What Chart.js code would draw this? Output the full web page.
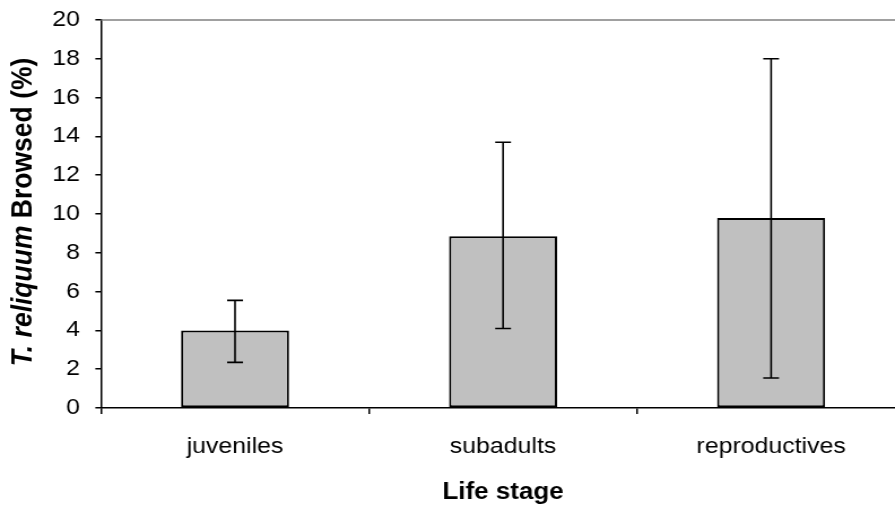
<!DOCTYPE html>
<html>
<head>
<meta charset="utf-8">
<script src="https://cdn.jsdelivr.net/npm/chart.js@4.4.0/dist/chart.umd.min.js"></script>
<style>
  html, body { margin: 0; padding: 0; background: #fff; width: 895px; height: 512px; overflow: hidden; }
  #wrap { width: 801px; height: 512px; transform: scaleX(1.13); transform-origin: 0 0; }
</style>
</head>
<body>
<div id="wrap"><canvas id="c" width="801" height="512"></canvas></div>
<script>
const categories = ['juveniles', 'subadults', 'reproductives'];
const means = [4.0, 8.85, 9.8];
const errLow = [2.35, 4.1, 1.55];
const errHigh = [5.55, 13.7, 18.0];
const yMin = 0, yMax = 20, yStep = 2;
const xTitle = 'Life stage';
const yTitleItalic = 'T. reliquum';
const yTitleRest = ' Browsed (%)';

const FONT = '"Liberation Sans", Arial, sans-serif';

const frame = {
  id: 'frame',
  beforeDatasetsDraw(chart) {
    const { ctx, chartArea } = chart;
    ctx.save();
    ctx.strokeStyle = '#808080';
    ctx.lineWidth = 1.5;
    ctx.beginPath();
    ctx.moveTo(chartArea.left, chartArea.top);
    ctx.lineTo(chartArea.right, chartArea.top);
    ctx.stroke();
    ctx.restore();
  },
  afterDatasetsDraw(chart) {
    const { ctx } = chart;
    const xs = chart.scales.x, ys = chart.scales.y;
    ctx.save();
    ctx.strokeStyle = '#000';
    ctx.lineWidth = 1.6;
    const cap = 7;
    categories.forEach((c, i) => {
      const x = xs.getPixelForValue(i);
      const yl = ys.getPixelForValue(errLow[i]);
      const yh = ys.getPixelForValue(errHigh[i]);
      ctx.beginPath();
      ctx.moveTo(x, yl); ctx.lineTo(x, yh);
      ctx.moveTo(x - cap, yl); ctx.lineTo(x + cap, yl);
      ctx.moveTo(x - cap, yh); ctx.lineTo(x + cap, yh);
      ctx.stroke();
    });
    ctx.restore();
  },
  afterDraw(chart) {
    const { ctx, chartArea } = chart;
    ctx.save();
    ctx.fillStyle = '#000';
    // x title
    ctx.font = 'bold 23px ' + FONT;
    ctx.textAlign = 'center';
    ctx.textBaseline = 'alphabetic';
    ctx.fillText(xTitle, (chartArea.left + chartArea.right) / 2, 499);
    // y title
    ctx.textBaseline = 'middle';
    const f1 = 'italic bold 26.5px ' + FONT;
    const f2 = 'bold 26.5px ' + FONT;
    ctx.font = f1; const w1 = ctx.measureText(yTitleItalic).width;
    ctx.font = f2; const w2 = ctx.measureText(yTitleRest).width;
    const cy = 212;
    ctx.translate(21, cy);
    ctx.rotate(-Math.PI / 2);
    let x0 = -(w1 + w2) / 2;
    ctx.textAlign = 'left';
    ctx.font = f1; ctx.fillText(yTitleItalic, x0, 0);
    ctx.font = f2; ctx.fillText(yTitleRest, x0 + w1, 0);
    ctx.restore();
  }
};

new Chart(document.getElementById('c'), {
  type: 'bar',
  data: {
    labels: categories,
    datasets: [{
      data: means,
      backgroundColor: '#C0C0C0',
      borderColor: '#000',
      borderWidth: 2,
      borderSkipped: false,
      barPercentage: 0.403,
      categoryPercentage: 1.0
    }]
  },
  options: {
    responsive: false,
    animation: false,
    devicePixelRatio: 1,
    layout: { padding: { top: 20, left: 0, right: 0, bottom: 0 } },
    plugins: { legend: { display: false }, tooltip: { enabled: false }, title: { display: false } },
    scales: {
      x: {
        offset: true,
        grid: { offset: true, drawOnChartArea: false, drawTicks: true, tickLength: 6, color: '#000', lineWidth: 1.5 },
        border: { display: true, color: '#000', width: 1.5 },
        ticks: { color: '#000', font: { family: FONT, size: 22 }, padding: 20, maxRotation: 0 },
        afterFit(s) { s.height = 104; s.paddingLeft = 0; s.paddingRight = 0; }
      },
      y: {
        min: yMin, max: yMax,
        grid: { drawOnChartArea: false, drawTicks: true, tickLength: 5, color: '#000', lineWidth: 1.5 },
        border: { display: true, color: '#000', width: 1.5 },
        ticks: { stepSize: yStep, color: '#000', font: { family: FONT, size: 22 }, padding: 13.6 },
        afterFit(s) { s.width = 89.4; s.paddingTop = 0; s.paddingBottom = 0; }
      }
    }
  },
  plugins: [frame]
});
</script>
</body>
</html>
